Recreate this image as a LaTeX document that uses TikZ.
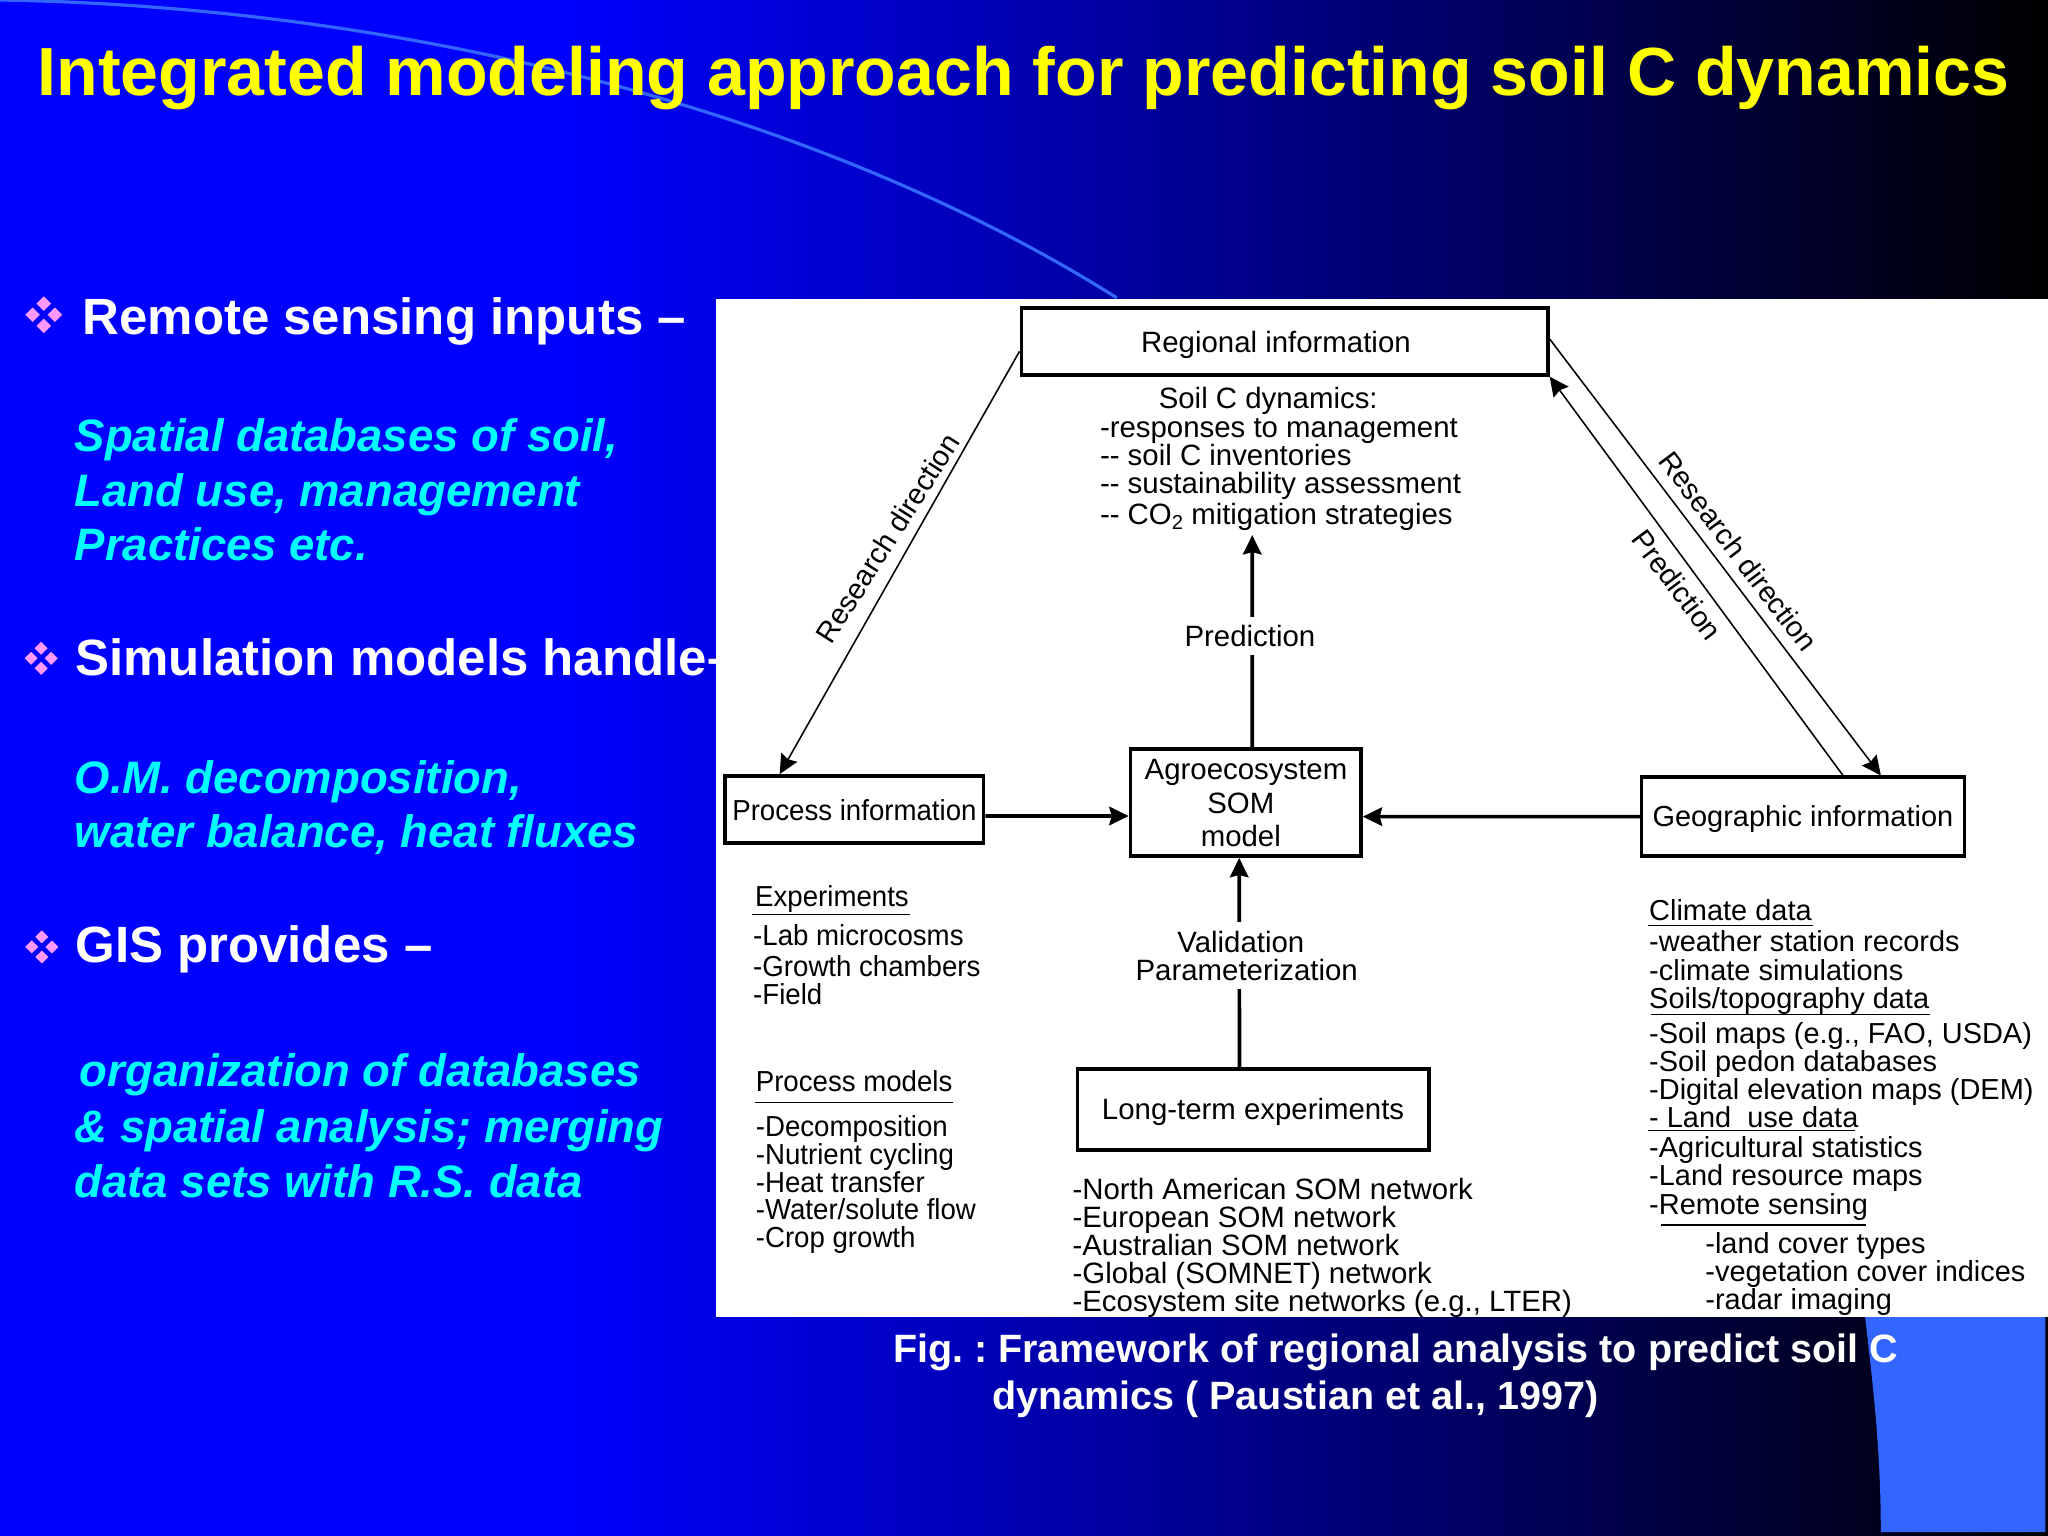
\documentclass[tikz,border=0pt]{standalone}
\usepackage{fontspec}
\usepackage{graphicx}
\setmainfont{Liberation Sans}
\newfontfamily\narrowfam[FakeStretch=0.955]{Liberation Sans}
\usetikzlibrary{arrows.meta,calc}
\definecolor{accentblue}{HTML}{3366FF}
\definecolor{bulletpink}{HTML}{FF99FF}
\definecolor{cyantext}{HTML}{00FFFF}
\definecolor{titleyellow}{HTML}{FFFF00}
\definecolor{bgblue}{HTML}{0000FF}
\newcommand{\fsz}[1]{\fontsize{#1pt}{#1pt}\selectfont}
% #1,#2 centre; #3 offset of each diamond; #4 half size of each diamond
\newcommand{\pinkbullet}[4]{%
  \foreach \dx/\dy in {0/-1,0/1,-1/0,1/0}{%
    \fill[bulletpink] ($(#1,#2)+(\dx*#3,\dy*#3)+(0,-#4)$) -- ++(#4,#4) -- ++(-#4,#4) -- ++(-#4,-#4) -- cycle;}}
\tikzset{
  slidetitle/.style={anchor=base west,inner sep=0pt,text=titleyellow,font=\fsz{14.83}\bfseries},
  headtext/.style={anchor=base west,inner sep=0pt,text=white,font=\fsz{11.1}\bfseries},
  subtext/.style={anchor=base west,inner sep=0pt,text=cyantext,font=\fsz{9.9}\bfseries\itshape},
  captext/.style={anchor=base west,inner sep=0pt,text=white,font=\fsz{8.6}\bfseries},
  figbox/.style={draw=black,line width=0.75pt,fill=white,inner sep=0pt},
  lab/.style={anchor=base west,inner sep=0pt,text=black,font=\fsz{6.4}},
  labr/.style={anchor=base west,inner sep=0pt,text=black,font=\fsz{6.3}},
  labc/.style={anchor=base,inner sep=0pt,text=black,font=\fsz{6.4}},
  labn/.style={anchor=base west,inner sep=0pt,text=black,font=\fsz{6.3}\narrowfam},
  rotlab/.style={inner sep=0pt,text=black,font=\fsz{6.3}},
  thinlink/.style={line width=0.34pt,-{Stealth[length=4.2pt,width=4pt,inset=0.5pt]}},
  thicklink/.style={line width=0.8pt,-{Stealth[length=4.2pt,width=4pt,inset=0.5pt]}},
  ruleline/.style={line width=0.3pt,black},
  gapfill/.style={fill=white,inner sep=0pt,text=black,font=\fsz{6.4}}
}
\begin{document}
\frenchspacing
\begin{tikzpicture}[x=0.01cm,y=-0.01cm]
\useasboundingbox (0,0) rectangle (1568,1176);
% background
\fill[bgblue] (0,0) rectangle (431,1176);
\shade[left color=bgblue,right color=black] (430,0) rectangle (1568,1176);
% decorative arc and corner
\draw[accentblue,line width=0.7pt] (0,0) .. controls (300,5) and (620,80) .. (855,228);
\fill[accentblue] (1427,1000) .. controls (1434,1060) and (1440,1110) .. (1440,1173) -- (1566,1173) -- (1566,1000) -- cycle;
% slide text
\node[slidetitle] (t0) at (28,73) {Integrated modeling approach for predicting soil C dynamics};
\pinkbullet{33.5}{241}{8.5}{5.5}
\pinkbullet{31.5}{504}{7.7}{5}
\pinkbullet{32}{725}{7.7}{5}
\node[headtext] (h1) at (62.5,256) {Remote sensing inputs --};
\node[subtext] (s1) at (56.5,345.7) {Spatial databases of soil,};
\node[subtext] (s2) at (56.5,387.7) {Land use, management};
\node[subtext] (s3) at (56.5,429.5) {Practices etc.};
\node[headtext] (h2) at (57,517) {Simulation models handle--};
\node[subtext] (s4) at (56.5,607.7) {O.M. decomposition,};
\node[subtext] (s5) at (56.5,649) {water balance, heat fluxes};
\node[headtext] (h3) at (57,736.7) {GIS provides --};
\node[subtext] (s6) at (60.5,832) {organization of databases};
\node[subtext] (s7) at (56.5,875) {\& spatial analysis; merging};
\node[subtext] (s8) at (56.5,917) {data sets with R.S. data};
% figure panel
\fill[white] (548,229) rectangle (1568,1008);
\node[captext] (c1) at (683,1043.5) {Fig. : Framework of regional analysis to predict soil C};
\node[captext] (c2) at (759,1079.5) {dynamics ( Paustian et al., 1997)};
% boxes
\node[figbox,minimum width=4.03cm,minimum height=0.51cm] (reg) at (983.5,261.5) {};
\node[figbox,minimum width=1.98cm,minimum height=0.515cm] (proc) at (654,619.75) {};
\node[figbox,minimum width=1.765cm,minimum height=0.82cm] (agro) at (953.75,614.5) {};
\node[figbox,minimum width=2.47cm,minimum height=0.605cm] (geo) at (1380.5,625.25) {};
\node[figbox,minimum width=2.69cm,minimum height=0.62cm] (long) at (959.5,849.5) {};
\node[lab] (lreg) at (873,270) {Regional information};
\node[labn] (lproc) at (560,628) {Process information};
\node[labc] (la1) at (954,597) {Agroecosystem};
\node[labc] (la2) at (950,623) {SOM};
\node[labc] (la3) at (950,648) {model};
\node[labr] (lgeo) at (1264.5,633) {Geographic information};
\node[lab] (llong) at (843,857.5) {Long-term experiments};
% connectors
\coordinate (ptip) at ($(agro.north)+(5,-162.5)$);
\draw[thicklink] ([xshift=0.05cm]agro.north) -- (ptip);
\node[gapfill,minimum width=1.05cm,minimum height=0.29cm] (pred) at (957,487) {Prediction};
\draw[thicklink] ([xshift=-0.105cm]long.north) -- ([xshift=-0.05cm]agro.south);
\node[fill=white,inner sep=0pt,minimum width=1.75cm,minimum height=0.51cm] (valbg) at (952,731.5) {};
\node[labc] (v1) at (950,729) {Validation};
\node[labc] (v2) at (954.5,751) {Parameterization};
\draw[thicklink] ([yshift=-0.05cm]proc.east) -- ([yshift=-0.1025cm]agro.west);
\draw[thicklink] (geo.west) -- ([yshift=-0.1075cm]agro.east);
\draw[thinlink] ([yshift=-0.075cm]reg.west) -- ([xshift=-0.57cm]proc.north);
\draw[thinlink] ([yshift=0.02cm]reg.east) -- ([xshift=0.595cm]geo.north);
\draw[thinlink] ([xshift=0.305cm]geo.north) -- (reg.south east);
\node[rotlab,rotate=57.5] (r1) at (679.5,412) {Research direction};
\node[rotlab,rotate=-53] (r2) at (1331,422) {Research direction};
\node[rotlab,rotate=-53] (r3) at (1284,448) {Prediction};
% centre text
\node[lab,anchor=base] (d0) at (971,313) {Soil C dynamics:};
\node[lab] (d1) at (841.5,335) {-responses to management};
\node[lab] (d2) at (841.5,356.5) {-{}- soil C inventories};
\node[lab] (d3) at (841.5,378) {-{}- sustainability assessment};
\node[lab] (d4) at (841.5,401.5) {-{}- CO\raisebox{-0.35ex}{\fsz{4.4}2} mitigation strategies};
% left column
\node[labn] (e0) at (577.5,694) {Experiments};
\coordinate (e0a) at (576,700); \coordinate (e0b) at (697,700);
\draw[ruleline] (e0a) -- (e0b);
\node[labn] (e1) at (576,724) {-Lab microcosms};
\node[labn] (e2) at (576,748) {-Growth chambers};
\node[labn] (e3) at (576,769) {-Field};
\node[labn] (m0) at (578,836) {Process models};
\coordinate (m0a) at (578,844); \coordinate (m0b) at (730,844);
\draw[ruleline] (m0a) -- (m0b);
\node[labn] (m1) at (578,870.5) {-Decomposition};
\node[labn] (m2) at (578,891.6) {-Nutrient cycling};
\node[labn] (m3) at (578,913) {-Heat transfer};
\node[labn] (m4) at (578,934) {-Water/solute flow};
\node[labn] (m5) at (578,955.5) {-Crop growth};
% middle column
\node[lab] (n1) at (820.5,918.5) {-North American SOM network};
\node[lab] (n2) at (820.5,940) {-European SOM network};
\node[lab] (n3) at (820.5,961) {-Australian SOM network};
\node[lab] (n4) at (820.5,982.5) {-Global (SOMNET) network};
\node[lab] (n5) at (820.5,1004) {-Ecosystem site networks (e.g., LTER)};
% right column
\node[labr] (g0) at (1262,705) {Climate data};
\coordinate (g0a) at (1262,708.5); \coordinate (g0b) at (1388,708.5);
\draw[ruleline] (g0a) -- (g0b);
\node[labr] (g1) at (1262,728.5) {-weather station records};
\node[labr] (g2) at (1262,750.4) {-climate simulations};
\node[labr] (g3) at (1262,772) {Soils/topography data};
\coordinate (g3a) at (1264,776.5); \coordinate (g3b) at (1478,776.5);
\draw[ruleline] (g3a) -- (g3b);
\node[labr] (g4) at (1262,798.7) {-Soil maps (e.g., FAO, USDA)};
\node[labr] (g5) at (1262,820.4) {-Soil pedon databases};
\node[labr] (g6) at (1262,842) {-Digital elevation maps (DEM)};
\node[labr] (g7) at (1262,863) {- Land\ \ use data};
\coordinate (g7a) at (1262,865.5); \coordinate (g7b) at (1420,865.5);
\draw[ruleline] (g7a) -- (g7b);
\node[labr] (g8) at (1262,886.5) {-Agricultural statistics};
\node[labr] (g9) at (1262,908) {-Land resource maps};
\node[labr] (g10) at (1262,929.5) {-Remote sensing};
\coordinate (g10a) at (1272,938); \coordinate (g10b) at (1429,938);
\draw[ruleline,line width=0.5pt] (g10a) -- (g10b);
\node[labr] (g11) at (1305,959.4) {-land cover types};
\node[labr] (g12) at (1305,981.2) {-vegetation cover indices};
\node[labr] (g13) at (1305,1002.3) {-radar imaging};
\end{tikzpicture}
\end{document}
